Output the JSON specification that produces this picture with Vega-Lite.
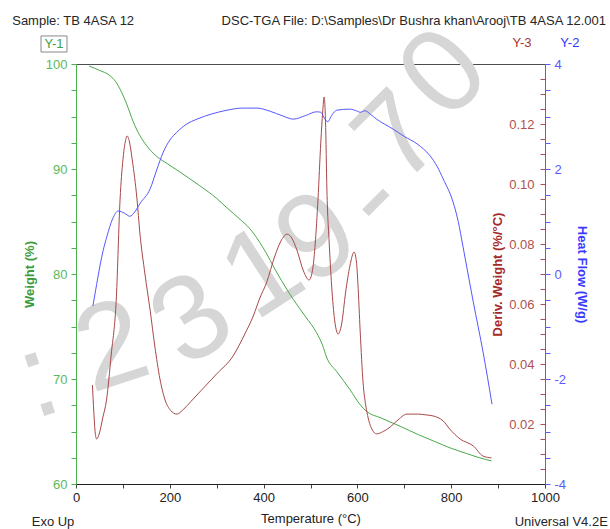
{
  "$schema": "https://vega.github.io/schema/vega-lite/v6.json",
  "width": 469,
  "height": 420,
  "autosize": {"type": "none"},
  "padding": {"left": 76, "top": 64, "right": 65, "bottom": 45},
  "background": "white",
  "config": {
    "font": "Liberation Sans",
    "view": {"stroke": "#4d4d4d", "strokeWidth": 1},
    "axis": {"grid": false, "labelFont": "Liberation Sans", "titleFont": "Liberation Sans"}
  },
  "datasets": {
    "weight": [
      {"temp": 28, "value": 99.8}, {"temp": 50, "value": 99.4}, {"temp": 72, "value": 98.9},
      {"temp": 85, "value": 98.3}, {"temp": 94, "value": 97.6}, {"temp": 108, "value": 96.2},
      {"temp": 122, "value": 94.5}, {"temp": 136, "value": 93.2}, {"temp": 151, "value": 92.2},
      {"temp": 172, "value": 91.2}, {"temp": 195, "value": 90.5}, {"temp": 222, "value": 89.7},
      {"temp": 264, "value": 88.4}, {"temp": 300, "value": 87.2}, {"temp": 322, "value": 86.3},
      {"temp": 350, "value": 85.2}, {"temp": 371, "value": 84.3}, {"temp": 399, "value": 82.5},
      {"temp": 430, "value": 80.0}, {"temp": 463, "value": 77.6}, {"temp": 490, "value": 75.9},
      {"temp": 513, "value": 74.4}, {"temp": 525, "value": 73.3}, {"temp": 535, "value": 72.0},
      {"temp": 556, "value": 70.7}, {"temp": 584, "value": 69.0}, {"temp": 605, "value": 67.6},
      {"temp": 620, "value": 66.9}, {"temp": 650, "value": 66.3}, {"temp": 691, "value": 65.5},
      {"temp": 730, "value": 64.7}, {"temp": 762, "value": 64.1}, {"temp": 800, "value": 63.4},
      {"temp": 833, "value": 62.9}, {"temp": 860, "value": 62.5}, {"temp": 886, "value": 62.2}
    ],
    "heat": [
      {"temp": 36, "value": -0.61}, {"temp": 44, "value": -0.2}, {"temp": 51, "value": 0.15},
      {"temp": 58, "value": 0.45}, {"temp": 66, "value": 0.72}, {"temp": 78, "value": 1.05},
      {"temp": 90, "value": 1.2}, {"temp": 103, "value": 1.16}, {"temp": 115, "value": 1.1},
      {"temp": 125, "value": 1.18}, {"temp": 137, "value": 1.35}, {"temp": 158, "value": 1.62},
      {"temp": 172, "value": 1.98}, {"temp": 186, "value": 2.32}, {"temp": 200, "value": 2.55},
      {"temp": 215, "value": 2.7}, {"temp": 235, "value": 2.85}, {"temp": 258, "value": 2.95},
      {"temp": 290, "value": 3.05}, {"temp": 322, "value": 3.12}, {"temp": 355, "value": 3.16},
      {"temp": 386, "value": 3.16}, {"temp": 414, "value": 3.1}, {"temp": 441, "value": 3.01},
      {"temp": 463, "value": 2.95}, {"temp": 490, "value": 3.02}, {"temp": 513, "value": 3.09},
      {"temp": 522, "value": 3.08}, {"temp": 530, "value": 2.96}, {"temp": 537, "value": 2.9},
      {"temp": 545, "value": 3.02}, {"temp": 556, "value": 3.12}, {"temp": 584, "value": 3.14},
      {"temp": 600, "value": 3.1}, {"temp": 606, "value": 3.08}, {"temp": 616, "value": 3.11},
      {"temp": 628, "value": 3.04}, {"temp": 641, "value": 2.95}, {"temp": 676, "value": 2.76},
      {"temp": 700, "value": 2.62}, {"temp": 727, "value": 2.48}, {"temp": 755, "value": 2.25},
      {"temp": 770, "value": 2.05}, {"temp": 783, "value": 1.81}, {"temp": 804, "value": 1.37},
      {"temp": 815, "value": 1.0}, {"temp": 825, "value": 0.53}, {"temp": 847, "value": -0.53},
      {"temp": 868, "value": -1.49}, {"temp": 887, "value": -2.48}
    ],
    "deriv": [
      {"temp": 35, "value": 0.033}, {"temp": 38, "value": 0.024}, {"temp": 41, "value": 0.017},
      {"temp": 44, "value": 0.015}, {"temp": 50, "value": 0.017}, {"temp": 57, "value": 0.022},
      {"temp": 65, "value": 0.028}, {"temp": 75, "value": 0.043}, {"temp": 86, "value": 0.062},
      {"temp": 94, "value": 0.095}, {"temp": 100, "value": 0.108}, {"temp": 105, "value": 0.114},
      {"temp": 109, "value": 0.116}, {"temp": 114, "value": 0.114}, {"temp": 120, "value": 0.108},
      {"temp": 130, "value": 0.095}, {"temp": 136, "value": 0.084}, {"temp": 147, "value": 0.07},
      {"temp": 158, "value": 0.058}, {"temp": 168, "value": 0.046}, {"temp": 179, "value": 0.035},
      {"temp": 190, "value": 0.028}, {"temp": 202, "value": 0.0245}, {"temp": 215, "value": 0.0233},
      {"temp": 230, "value": 0.025}, {"temp": 245, "value": 0.0275}, {"temp": 264, "value": 0.0307},
      {"temp": 300, "value": 0.0367}, {"temp": 335, "value": 0.0427}, {"temp": 360, "value": 0.05},
      {"temp": 378, "value": 0.056}, {"temp": 392, "value": 0.062}, {"temp": 406, "value": 0.067},
      {"temp": 424, "value": 0.076}, {"temp": 437, "value": 0.081}, {"temp": 450, "value": 0.0833},
      {"temp": 460, "value": 0.082}, {"temp": 471, "value": 0.078}, {"temp": 485, "value": 0.071},
      {"temp": 497, "value": 0.068}, {"temp": 505, "value": 0.072}, {"temp": 510, "value": 0.08},
      {"temp": 516, "value": 0.095}, {"temp": 522, "value": 0.114}, {"temp": 526, "value": 0.124},
      {"temp": 529, "value": 0.129}, {"temp": 532, "value": 0.121}, {"temp": 535, "value": 0.098},
      {"temp": 540, "value": 0.08}, {"temp": 546, "value": 0.064}, {"temp": 552, "value": 0.054},
      {"temp": 559, "value": 0.05}, {"temp": 566, "value": 0.053}, {"temp": 575, "value": 0.064},
      {"temp": 584, "value": 0.0727}, {"temp": 593, "value": 0.0773}, {"temp": 598, "value": 0.074},
      {"temp": 601, "value": 0.067}, {"temp": 606, "value": 0.0507}, {"temp": 612, "value": 0.034},
      {"temp": 618, "value": 0.026}, {"temp": 623, "value": 0.022}, {"temp": 632, "value": 0.018},
      {"temp": 641, "value": 0.0167}, {"temp": 655, "value": 0.0175}, {"temp": 670, "value": 0.019},
      {"temp": 684, "value": 0.021}, {"temp": 706, "value": 0.0233}, {"temp": 730, "value": 0.0233},
      {"temp": 748, "value": 0.023}, {"temp": 761, "value": 0.0227}, {"temp": 783, "value": 0.021},
      {"temp": 797, "value": 0.0183}, {"temp": 819, "value": 0.015}, {"temp": 847, "value": 0.0127},
      {"temp": 868, "value": 0.0093}, {"temp": 886, "value": 0.0087}
    ],
    "stampLeft": [
      {"ch": ":", "temp": -80, "weight": 69.9},
      {"ch": "2", "temp": 77, "weight": 72.9}
    ],
    "stampMid": [
      {"ch": "3", "temp": 249, "weight": 75.5},
      {"ch": "1", "temp": 399, "weight": 80.0},
      {"ch": "9", "temp": 516, "weight": 83.3}
    ],
    "stampRight": [
      {"ch": "-", "temp": 633, "weight": 87.1},
      {"ch": "7", "temp": 691, "weight": 92.9},
      {"ch": "0", "temp": 787, "weight": 99.0}
    ],
    "notesLeft": [
      {"label": "Sample: TB 4ASA  12", "temp": -136, "weight": 104.05, "ink": "dark"}
    ],
    "notesRight": [
      {"label": "DSC-TGA File: D:\\Samples\\Dr Bushra khan\\Arooj\\TB 4ASA 12.001", "temp": 1130, "weight": 104.1, "ink": "dark"},
      {"label": "Universal V4.2E", "temp": 1134, "weight": 56.35, "ink": "dark"}
    ],
    "notesCenter": [
      {"label": "Y-1", "temp": -47, "weight": 101.9, "ink": "green"},
      {"label": "Y-3", "temp": 951, "weight": 102.0, "ink": "red"},
      {"label": "Y-2", "temp": 1053, "weight": 102.0, "ink": "blue"},
      {"label": "Exo Up", "temp": -49, "weight": 56.35, "ink": "dark"}
    ]
  },
  "layer": [
    {
      "data": {"name": "weight"},
      "mark": {"type": "line", "interpolate": "monotone", "strokeWidth": 1, "color": "#4aa84a", "opacity": 0},
      "encoding": {
        "x": {
          "field": "temp", "type": "quantitative",
          "scale": {"domain": [0, 1000], "nice": false},
          "axis": {
            "orient": "bottom",
            "title": "Temperature (°C)",
            "values": [0, 50, 100, 150, 200, 250, 300, 350, 400, 450, 500, 550, 600, 650, 700, 750, 800, 850, 900, 950, 1000],
            "format": "d",
            "labelExpr": "datum.value % 200 === 0 ? datum.label : ''",
            "labelFlush": false, "labelOverlap": false,
            "domainColor": "#222", "tickColor": "#444", "tickSize": 4,
            "labelColor": "#222", "labelFontSize": 13, "labelPadding": 3,
            "titleColor": "#222", "titleFontSize": 13, "titleFontWeight": "normal", "titlePadding": 8
          }
        },
        "y": {"field": "value", "type": "quantitative", "scale": {"domain": [60, 100], "nice": false}, "axis": null}
      }
    },
    {
      "data": {"name": "stampLeft"},
      "mark": {"type": "text", "angle": -18, "fontSize": 120, "color": "#d6d6d6", "font": "Liberation Sans", "align": "center", "baseline": "middle"},
      "encoding": {
        "x": {"field": "temp", "type": "quantitative", "scale": {"domain": [0, 1000], "nice": false}},
        "y": {"field": "weight", "type": "quantitative", "scale": {"domain": [60, 100], "nice": false}, "axis": null},
        "text": {"field": "ch"}
      }
    },
    {
      "data": {"name": "stampMid"},
      "mark": {"type": "text", "angle": -33, "fontSize": 120, "color": "#d6d6d6", "font": "Liberation Sans", "align": "center", "baseline": "middle"},
      "encoding": {
        "x": {"field": "temp", "type": "quantitative", "scale": {"domain": [0, 1000], "nice": false}},
        "y": {"field": "weight", "type": "quantitative", "scale": {"domain": [60, 100], "nice": false}, "axis": null},
        "text": {"field": "ch"}
      }
    },
    {
      "data": {"name": "stampRight"},
      "mark": {"type": "text", "angle": -45, "fontSize": 120, "color": "#d6d6d6", "font": "Liberation Sans", "align": "center", "baseline": "middle"},
      "encoding": {
        "x": {"field": "temp", "type": "quantitative", "scale": {"domain": [0, 1000], "nice": false}},
        "y": {"field": "weight", "type": "quantitative", "scale": {"domain": [60, 100], "nice": false}, "axis": null},
        "text": {"field": "ch"}
      }
    },
    {
      "data": {"name": "weight"},
      "mark": {"type": "line", "interpolate": "monotone", "strokeWidth": 1, "color": "#4aa84a"},
      "encoding": {
        "x": {"field": "temp", "type": "quantitative", "scale": {"domain": [0, 1000], "nice": false}},
        "y": {
          "field": "value", "type": "quantitative",
          "scale": {"domain": [60, 100], "nice": false},
          "axis": {
            "orient": "left",
            "title": "Weight (%)",
            "values": [60, 62.5, 65, 67.5, 70, 72.5, 75, 77.5, 80, 82.5, 85, 87.5, 90, 92.5, 95, 97.5, 100],
            "labelExpr": "datum.value % 10 === 0 ? datum.label : ''",
            "labelOverlap": false, "labelFlush": false,
            "domainColor": "#4caf50", "tickColor": "#4caf50", "tickSize": 5,
            "labelColor": "#5cb85c", "labelFontSize": 13, "labelPadding": 4,
            "titleColor": "#3c9c3c", "titleFontSize": 13, "titleFontWeight": "bold", "titlePadding": 9
          }
        }
      }
    },
    {
      "data": {"name": "deriv"},
      "mark": {"type": "line", "interpolate": "monotone", "strokeWidth": 1, "color": "#a84848"},
      "encoding": {
        "x": {"field": "temp", "type": "quantitative", "scale": {"domain": [0, 1000], "nice": false}},
        "y": {
          "field": "value", "type": "quantitative",
          "scale": {"domain": [0, 0.14], "nice": false},
          "axis": {
            "orient": "left", "offset": -469,
            "title": "Deriv. Weight (%/°C)",
            "values": [0.005, 0.01, 0.015, 0.02, 0.025, 0.03, 0.035, 0.04, 0.045, 0.05, 0.055, 0.06, 0.065, 0.07, 0.075, 0.08, 0.085, 0.09, 0.095, 0.1, 0.105, 0.11, 0.115, 0.12, 0.125, 0.13, 0.135],
            "labelExpr": "abs(datum.value * 50 - round(datum.value * 50)) < 0.000001 ? format(datum.value, '.2f') : ''",
            "labelOverlap": false, "labelFlush": false,
            "domain": false, "tickColor": "#b05050", "tickSize": 5,
            "labelColor": "#b05050", "labelFontSize": 13, "labelPadding": 6,
            "titleColor": "#a52a2a", "titleFontSize": 13, "titleFontWeight": "bold", "titlePadding": 4
          }
        }
      }
    },
    {
      "data": {"name": "heat"},
      "mark": {"type": "line", "interpolate": "monotone", "strokeWidth": 1, "color": "#5656ff"},
      "encoding": {
        "x": {"field": "temp", "type": "quantitative", "scale": {"domain": [0, 1000], "nice": false}},
        "y": {
          "field": "value", "type": "quantitative",
          "scale": {"domain": [-4, 4], "nice": false},
          "axis": {
            "orient": "right",
            "title": "Heat Flow (W/g)",
            "values": [-4, -3.5, -3, -2.5, -2, -1.5, -1, -0.5, 0, 0.5, 1, 1.5, 2, 2.5, 3, 3.5, 4],
            "labelExpr": "datum.value % 2 === 0 ? (datum.value < 0 ? '-' + abs(datum.value) : '' + datum.value) : ''",
            "labelOverlap": false, "labelFlush": false,
            "domainColor": "#5a5aff", "tickColor": "#5a5aff", "tickSize": 5,
            "labelColor": "#5a5aff", "labelFontSize": 13, "labelPadding": 4,
            "titleColor": "#3a3aff", "titleFontSize": 13, "titleFontWeight": "bold", "titlePadding": 9
          }
        }
      }
    },
    {
      "data": {"values": [{}]},
      "mark": {"type": "rect", "fill": "#ffffff", "fillOpacity": 0, "stroke": "#888888", "strokeWidth": 1},
      "encoding": {
        "x": {"datum": -74.6, "type": "quantitative", "scale": {"domain": [0, 1000], "nice": false}},
        "x2": {"datum": -19.2},
        "y": {"datum": 102.67, "type": "quantitative", "scale": {"domain": [60, 100], "nice": false}, "axis": null},
        "y2": {"datum": 101.14}
      }
    },
    {
      "data": {"name": "notesLeft"},
      "mark": {"type": "text", "align": "left", "baseline": "middle", "fontSize": 13, "font": "Liberation Sans"},
      "encoding": {
        "x": {"field": "temp", "type": "quantitative", "scale": {"domain": [0, 1000], "nice": false}},
        "y": {"field": "weight", "type": "quantitative", "scale": {"domain": [60, 100], "nice": false}, "axis": null},
        "text": {"field": "label"},
        "color": {"field": "ink", "type": "nominal", "legend": null, "scale": {"domain": ["dark", "green", "red", "blue"], "range": ["#262626", "#3fa33f", "#a83232", "#3535ff"]}}
      }
    },
    {
      "data": {"name": "notesRight"},
      "mark": {"type": "text", "align": "right", "baseline": "middle", "fontSize": 13, "font": "Liberation Sans"},
      "encoding": {
        "x": {"field": "temp", "type": "quantitative", "scale": {"domain": [0, 1000], "nice": false}},
        "y": {"field": "weight", "type": "quantitative", "scale": {"domain": [60, 100], "nice": false}, "axis": null},
        "text": {"field": "label"},
        "color": {"field": "ink", "type": "nominal", "legend": null, "scale": {"domain": ["dark", "green", "red", "blue"], "range": ["#262626", "#3fa33f", "#a83232", "#3535ff"]}}
      }
    },
    {
      "data": {"name": "notesCenter"},
      "mark": {"type": "text", "align": "center", "baseline": "middle", "fontSize": 13, "font": "Liberation Sans"},
      "encoding": {
        "x": {"field": "temp", "type": "quantitative", "scale": {"domain": [0, 1000], "nice": false}},
        "y": {"field": "weight", "type": "quantitative", "scale": {"domain": [60, 100], "nice": false}, "axis": null},
        "text": {"field": "label"},
        "color": {"field": "ink", "type": "nominal", "legend": null, "scale": {"domain": ["dark", "green", "red", "blue"], "range": ["#262626", "#3fa33f", "#a83232", "#3535ff"]}}
      }
    }
  ],
  "resolve": {"scale": {"y": "independent", "color": "shared"}, "axis": {"x": "shared"}}
}
